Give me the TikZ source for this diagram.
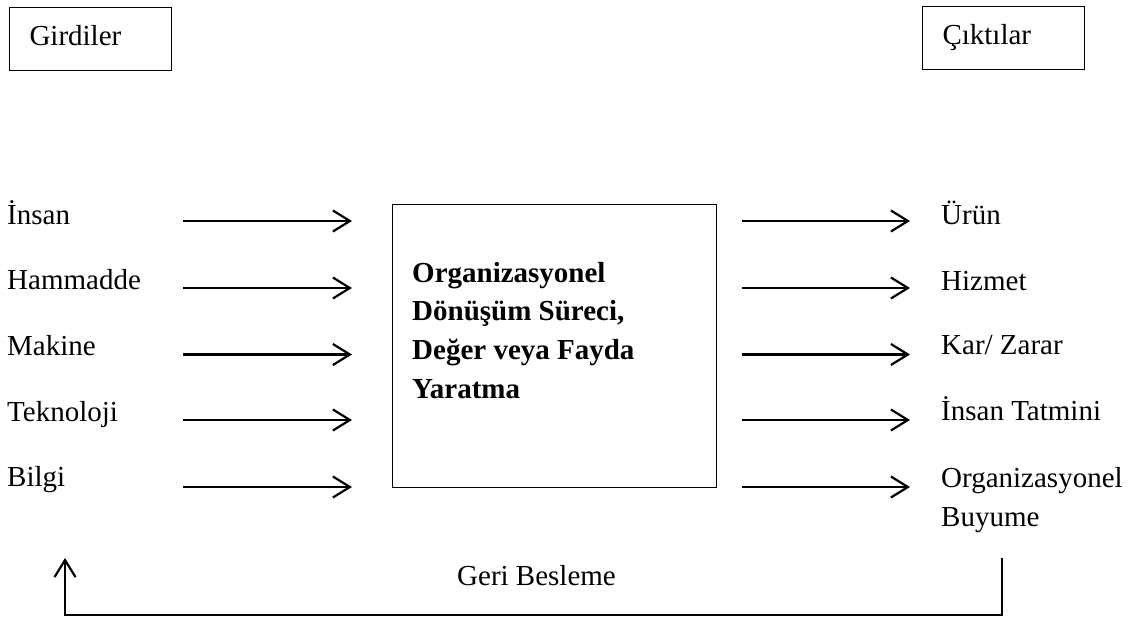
\documentclass[tikz,border=0pt]{standalone}
\usepackage{fontspec}
\setmainfont{Liberation Serif}
\usetikzlibrary{arrows.meta}
\begin{document}
\begin{tikzpicture}[x=1pt,y=-1pt,
  lbl/.style={anchor=base west, inner sep=0pt, font=\fontsize{29}{39}\selectfont},
  multilbl/.style={lbl, align=left},
  headbox/.style={draw, line width=1pt, anchor=north west,
    minimum width=162pt, minimum height=63pt, inner xsep=20pt, inner ysep=0pt,
    text width=122pt, align=left, text height=20pt, text depth=6pt,
    font=\fontsize{29}{35}\selectfont},
  procbox/.style={draw, line width=1pt, anchor=north west,
    minimum width=324pt, minimum height=283pt, inner sep=0pt},
  proctext/.style={anchor=base west, inner sep=0pt, align=left,
    font=\fontsize{29}{38.6}\selectfont\bfseries},
  flow/.style={line width=2.2pt,
    -{Straight Barb[length=17pt,width=21pt]}}
]
\useasboundingbox (0,0) rectangle (1145,617);

% column headings
\node[headbox] (girdi) at (9,7) {Girdiler};
\node[headbox] (cikti) at (922,6) {Çıktılar};

% transformation process (base anchor sits on the last line)
\node[procbox] (surec) at (392,204) {};
\node[proctext] (surectxt) at (412,398)
  {Organizasyonel\\Dönüşüm Süreci,\\Değer veya Fayda\\Yaratma};

% inputs
\node[lbl] (in1) at (7,225) {İnsan};
\node[lbl] (in2) at (7,290) {Hammadde};
\node[lbl] (in3) at (7,355.5) {Makine};
\node[lbl] (in4) at (7,421) {Teknoloji};
\node[lbl] (in5) at (7,486) {Bilgi};

% outputs
\node[lbl] (out1) at (941,225) {Ürün};
\node[lbl] (out2) at (941,291) {Hizmet};
\node[lbl] (out3) at (941,355) {Kar/ Zarar};
\node[lbl] (out4) at (941,420) {İnsan Tatmini};
\node[multilbl] (out5) at (941,526) {Organizasyonel\\Buyume};

% arrow end points
\foreach \i/\y in {1/221,2/288,3/354.5,4/420,5/487}{
  \coordinate (ia\i) at (183,\y);
  \coordinate (ib\i) at (352,\y);
  \coordinate (oa\i) at (742,\y);
  \coordinate (ob\i) at (910,\y);
}
\foreach \i in {1,...,5}{
  \draw[flow] (ia\i) -- (ib\i);
  \draw[flow] (oa\i) -- (ob\i);
}

% feedback loop
\coordinate (fbR) at (1002,558);
\coordinate (fbL) at (65,558);
\draw[flow] (fbR) -- ++(0,57.3) -| (fbL);
\node[lbl] (geri) at (457,585) {Geri Besleme};
\end{tikzpicture}
\end{document}
